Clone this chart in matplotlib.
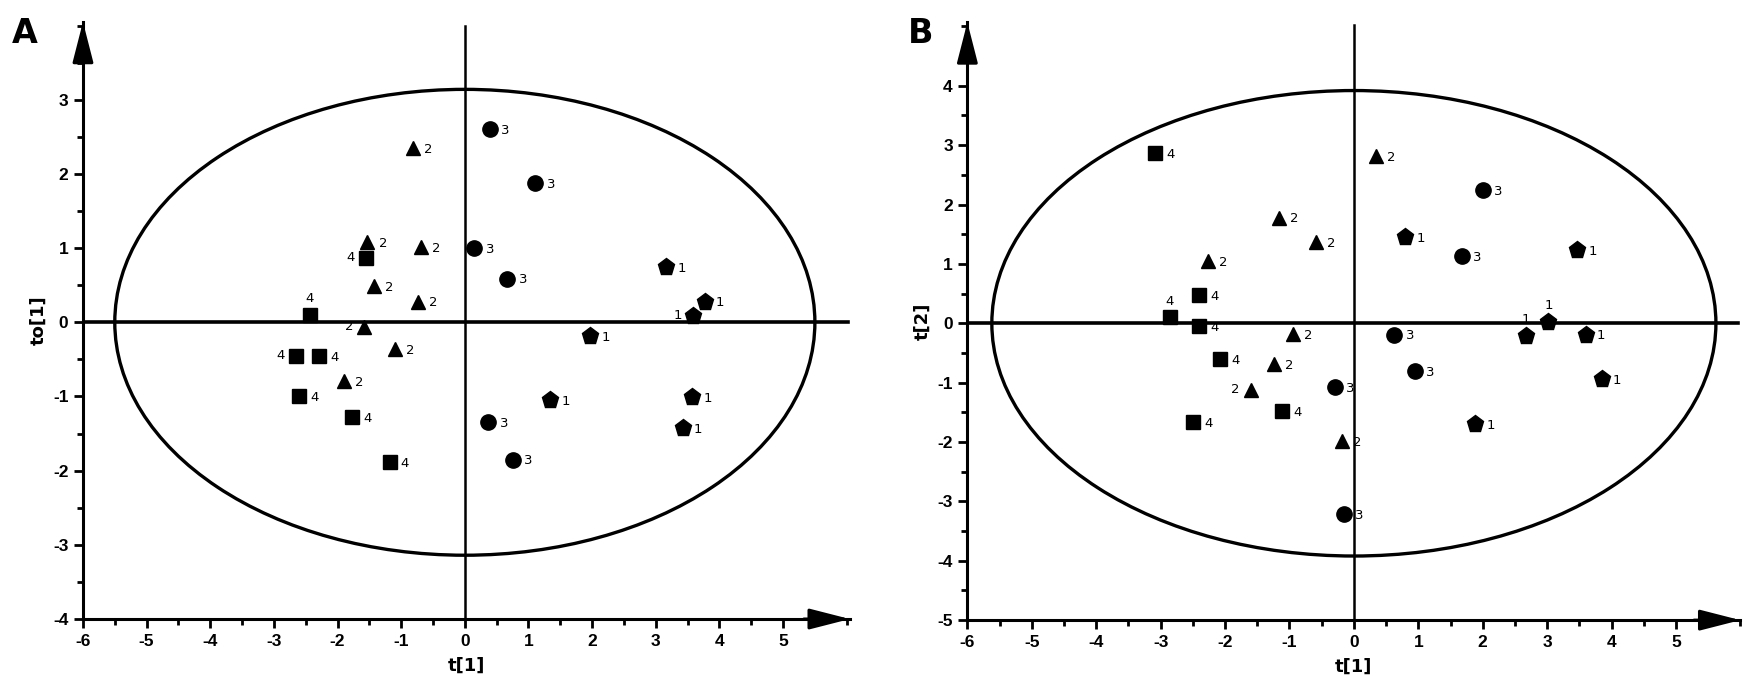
import matplotlib
matplotlib.use("Agg")
import matplotlib.pyplot as plt
from matplotlib.patches import Ellipse
from matplotlib.ticker import MultipleLocator
import matplotlib.font_manager as fm

avail = {f.name for f in fm.fontManager.ttflist}
TICKFONT = 'Liberation Sans Narrow' if 'Liberation Sans Narrow' in avail else 'Liberation Sans'

# ---------------- Data: Panel A (t[1] vs to[1]) ----------------
pent_A_x = [3.16, 3.77, 3.58, 1.97, 1.34, 3.57, 3.42]
pent_A_y = [0.75, 0.28, 0.09, -0.18, -1.05, -1.01, -1.43]
pent_A_pos = ['r', 'r', 'l', 'r', 'r', 'r', 'r']

tri_A_x = [-0.81, -1.53, -0.69, -1.43, -0.74, -1.58, -1.10, -1.90]
tri_A_y = [2.35, 1.08, 1.01, 0.49, 0.28, -0.06, -0.36, -0.79]
tri_A_pos = ['r', 'r', 'r', 'r', 'r', 'l', 'r', 'r']

circ_A_x = [0.39, 1.11, 0.15, 0.67, 0.37, 0.75]
circ_A_y = [2.60, 1.88, 1.00, 0.59, -1.35, -1.85]
circ_A_pos = ['r'] * 6

sq_A_x = [-1.56, -2.44, -2.65, -2.29, -2.60, -1.77, -1.18]
sq_A_y = [0.87, 0.10, -0.45, -0.46, -1.00, -1.28, -1.88]
sq_A_pos = ['l', 't', 'l', 'r', 'r', 'r', 'r']

ellipse_A = (5.5, 3.14)

# ---------------- Data: Panel B (t[1] vs t[2]) ----------------
pent_B_x = [0.80, 3.47, 3.02, 2.67, 3.60, 3.85, 1.88]
pent_B_y = [1.45, 1.23, 0.02, -0.21, -0.19, -0.94, -1.69]
pent_B_pos = ['r', 'r', 't', 't', 'r', 'r', 'r']

tri_B_x = [0.34, -1.16, -0.59, -2.27, -0.95, -1.24, -1.60, -0.19]
tri_B_y = [2.82, 1.78, 1.37, 1.05, -0.18, -0.69, -1.12, -1.98]
tri_B_pos = ['r', 'r', 'r', 'r', 'r', 'r', 'l', 'r']

circ_B_x = [2.01, 1.68, 0.63, 0.95, -0.30, -0.16]
circ_B_y = [2.24, 1.13, -0.19, -0.80, -1.07, -3.21]
circ_B_pos = ['r'] * 6

sq_B_x = [-3.08, -2.40, -2.86, -2.40, -2.08, -1.11, -2.50]
sq_B_y = [2.86, 0.47, 0.10, -0.04, -0.60, -1.48, -1.66]
sq_B_pos = ['r', 'r', 't', 'r', 'r', 'r', 'r']

ellipse_B = (5.62, 3.92)

xticks = [-6, -5, -4, -3, -2, -1, 0, 1, 2, 3, 4, 5]
yticks_A = [-4, -3, -2, -1, 0, 1, 2, 3]
yticks_B = [-5, -4, -3, -2, -1, 0, 1, 2, 3, 4]

# ---------------- Figure ----------------
fig = plt.figure(figsize=(17.43, 6.96), dpi=100)

OFFS = {'r': ((8, -1), 'left', 'center'),
        'l': ((-8, 0), 'right', 'center'),
        't': ((0, 7), 'center', 'bottom')}


def draw_group(ax, xs, ys, pos, marker, ms, label):
    ax.plot(xs, ys, linestyle='none', marker=marker, ms=ms, color='black',
            markeredgecolor='black', zorder=4)
    for x, y, p in zip(xs, ys, pos):
        off, ha, va = OFFS[p]
        ax.annotate(label, (x, y), xytext=off, textcoords='offset points',
                    ha=ha, va=va, fontsize=9.5, family='DejaVu Sans', zorder=5)


ARROW = '-|>,head_length=1.25,head_width=0.32'


def setup(ax, xlim, ylim, yticks, ell, xlabel, ylabel, letter, letter_x):
    ax.set_xlim(*xlim)
    ax.set_ylim(*ylim)
    for s in ['top', 'right']:
        ax.spines[s].set_visible(False)
    for s in ['left', 'bottom']:
        ax.spines[s].set_linewidth(2.2)
    ax.set_xticks(xticks)
    ax.set_yticks(yticks)
    ax.xaxis.set_minor_locator(MultipleLocator(0.5))
    ax.yaxis.set_minor_locator(MultipleLocator(0.5))
    ax.tick_params(which='major', direction='out', length=6.5, width=2, pad=4)
    ax.tick_params(which='minor', direction='out', length=4.5, width=2)
    ax.set_xticklabels([str(t) for t in xticks], family=TICKFONT,
                       fontweight='bold', fontsize=12.5)
    ax.set_yticklabels([str(t) for t in yticks], family=TICKFONT,
                       fontweight='bold', fontsize=12.5)
    ax.set_xlabel(xlabel, family='DejaVu Sans', fontweight='bold', fontsize=13, labelpad=6)
    ax.set_ylabel(ylabel, family='DejaVu Sans', fontweight='bold', fontsize=13, labelpad=4)
    # arrows at axis ends
    ax.annotate('', xy=(1.0, 0), xytext=(0.94, 0), xycoords='axes fraction',
                arrowprops=dict(arrowstyle=ARROW, mutation_scale=20, lw=2.2,
                                color='black', shrinkA=0, shrinkB=0),
                annotation_clip=False)
    ax.annotate('', xy=(0, 1.0), xytext=(0, 0.94), xycoords='axes fraction',
                arrowprops=dict(arrowstyle=ARROW, mutation_scale=20, lw=2.2,
                                color='black', shrinkA=0, shrinkB=0),
                annotation_clip=False)
    # reference lines
    ax.plot([xlim[0], xlim[1] - 0.03], [0, 0], color='black', lw=2.6, zorder=3)
    ax.plot([0, 0], [ylim[0], ylim[1] - 0.05], color='black', lw=1.8, zorder=3)
    ax.add_patch(Ellipse((0, 0), 2 * ell[0], 2 * ell[1], fill=False,
                         edgecolor='black', lw=2.4, zorder=3))
    fig.text(letter_x, 0.975, letter, fontsize=24, fontweight='bold',
             family='DejaVu Sans', ha='left', va='top')


axA = fig.add_axes([0.0476, 0.1106, 0.440, 0.858])
setup(axA, (-6, 6.05), (-4, 4.05), yticks_A, ellipse_A, 't[1]', 'to[1]', 'A', 0.007)
draw_group(axA, pent_A_x, pent_A_y, pent_A_pos, 'p', 12.5, '1')
draw_group(axA, tri_A_x, tri_A_y, tri_A_pos, '^', 10.5, '2')
draw_group(axA, circ_A_x, circ_A_y, circ_A_pos, 'o', 11, '3')
draw_group(axA, sq_A_x, sq_A_y, sq_A_pos, 's', 10.5, '4')

axB = fig.add_axes([0.555, 0.109, 0.4435, 0.859])
setup(axB, (-6, 6.0), (-5, 5.07), yticks_B, ellipse_B, 't[1]', 't[2]', 'B', 0.521)
draw_group(axB, pent_B_x, pent_B_y, pent_B_pos, 'p', 12.5, '1')
draw_group(axB, tri_B_x, tri_B_y, tri_B_pos, '^', 10.5, '2')
draw_group(axB, circ_B_x, circ_B_y, circ_B_pos, 'o', 11, '3')
draw_group(axB, sq_B_x, sq_B_y, sq_B_pos, 's', 10.5, '4')

fig.savefig('out.png', dpi=100, facecolor='white')
